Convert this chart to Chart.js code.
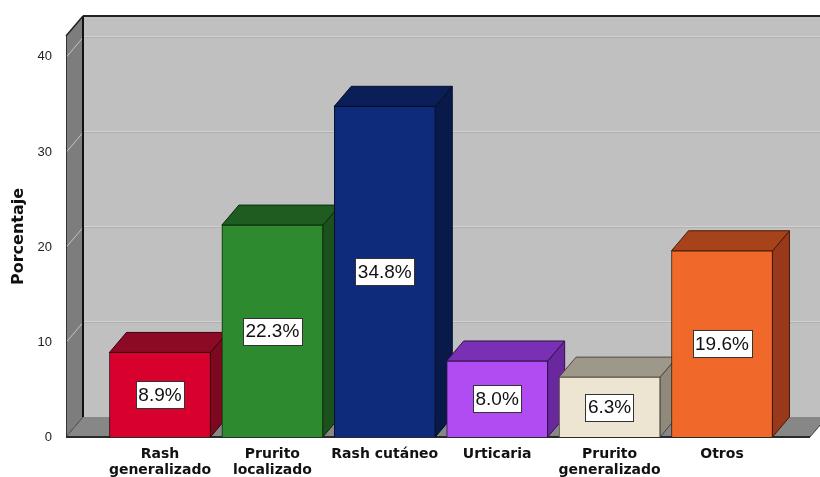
<!DOCTYPE html>
<html>
<head>
<meta charset="utf-8">
<script src="https://cdn.jsdelivr.net/npm/chart.js@4.4.1/dist/chart.umd.min.js"></script>
<style>
  html, body { margin: 0; padding: 0; background: #ffffff; }
  #wrap { width: 820px; height: 477px; }
</style>
</head>
<body>
<div id="wrap"><canvas id="c" width="820" height="477"></canvas></div>
<script>
// Categories, values and axis ticks
const categories = [['Rash', 'generalizado'], ['Prurito', 'localizado'], 'Rash cutáneo', 'Urticaria', ['Prurito', 'generalizado'], 'Otros'];
const percentages = [8.9, 22.3, 34.8, 8.0, 6.3, 19.6];
const yTicks = [0, 10, 20, 30, 40];

// Bar face colours: front, top, side, edge
const frontColors = ['#d8002c', '#2e8a2e', '#0d2b7a', '#b14bf2', '#ede5d1', '#f0692b'];
const topColors   = ['#8c0a24', '#1f5c1f', '#0a1e57', '#7a30b5', '#9d9889', '#a6431b'];
const sideColors  = ['#7e0820', '#1b521b', '#08194a', '#6a289e', '#8f8a7c', '#97391a'];
const edgeColors  = ['#3a0010', '#0f2a0f', '#050f2a', '#33124d', '#4a463c', '#4a1a08'];

// Depth of the 3D box (pixels)
const DX = 17, DY = 20;

function poly(ctx, pts, fill, stroke, lw) {
  ctx.beginPath();
  ctx.moveTo(pts[0][0], pts[0][1]);
  for (let i = 1; i < pts.length; i++) ctx.lineTo(pts[i][0], pts[i][1]);
  ctx.closePath();
  if (fill) { ctx.fillStyle = fill; ctx.fill(); }
  if (stroke) { ctx.strokeStyle = stroke; ctx.lineWidth = lw || 1; ctx.stroke(); }
}

function line(ctx, x1, y1, x2, y2, color, lw) {
  ctx.beginPath();
  ctx.moveTo(x1, y1);
  ctx.lineTo(x2, y2);
  ctx.strokeStyle = color;
  ctx.lineWidth = lw;
  ctx.stroke();
}

const box3d = {
  id: 'box3d',
  beforeDatasetsDraw(chart) {
    const { ctx, chartArea: a, scales: { y } } = chart;
    ctx.save();
    // back wall
    ctx.fillStyle = '#c0c0c0';
    ctx.fillRect(a.left + DX, a.top - DY, a.right - a.left + 20, a.bottom - a.top);
    // left wall
    poly(ctx, [[a.left, a.top], [a.left + DX, a.top - DY], [a.left + DX, a.bottom - DY], [a.left, a.bottom]], '#7d7d7d');
    // floor
    poly(ctx, [[a.left, a.bottom], [a.left + DX, a.bottom - DY], [a.right + DX, a.bottom - DY], [a.right, a.bottom]], '#878787');
    // grid lines on back and left walls
    yTicks.forEach(t => {
      if (t === 0) return;
      const yy = Math.round(y.getPixelForValue(t)) + 0.5;
      line(ctx, a.left + DX, yy - DY, a.right + DX + 20, yy - DY, '#b0b0b0', 1);
      line(ctx, a.left + DX, yy - DY - 1, a.right + DX + 20, yy - DY - 1, '#d2d2d2', 1);
      line(ctx, a.left, yy, a.left + DX, yy - DY, '#c4c4c4', 1);
    });
    // edges
    line(ctx, a.left + DX, a.top - DY, a.right + DX + 20, a.top - DY, '#222', 2);
    line(ctx, a.left + DX, a.top - DY, a.left + DX, a.bottom - DY, '#111', 2);
    line(ctx, a.left, a.top, a.left + DX, a.top - DY, '#222', 1.5);
    line(ctx, a.left + 0.5, a.top, a.left + 0.5, a.bottom, '#333', 1);
    line(ctx, a.left, a.bottom, a.left + DX, a.bottom - DY, '#444', 1);
    line(ctx, a.right, a.bottom, a.right + DX, a.bottom - DY, '#444', 1);
    line(ctx, a.left, a.bottom, a.right, a.bottom, '#2a2a2a', 2);

    // top and side faces of the bars
    const meta = chart.getDatasetMeta(0);
    meta.data.forEach((el, i) => {
      const p = el.getProps(['x', 'y', 'base', 'width'], true);
      const l = p.x - p.width / 2, r = p.x + p.width / 2;
      poly(ctx, [[r, p.y], [r + DX, p.y - DY], [r + DX, p.base - DY], [r, p.base]], sideColors[i], edgeColors[i], 1);
      poly(ctx, [[l, p.y], [l + DX, p.y - DY], [r + DX, p.y - DY], [r, p.y]], topColors[i], edgeColors[i], 1);
    });
    ctx.restore();
  },
  afterDatasetsDraw(chart) {
    const { ctx } = chart;
    const meta = chart.getDatasetMeta(0);
    ctx.save();
    ctx.font = '19px "Liberation Sans", Arial, sans-serif';
    ctx.textAlign = 'center';
    ctx.textBaseline = 'middle';
    meta.data.forEach((el, i) => {
      const p = el.getProps(['x', 'y', 'base'], true);
      const txt = percentages[i].toFixed(1) + '%';
      const w = ctx.measureText(txt).width + 5;
      const h = 27;
      const cy = (p.y + p.base) / 2;
      const bx = Math.round(p.x - w / 2) + 0.5, by = Math.round(cy - h / 2) + 0.5;
      ctx.fillStyle = '#ffffff';
      ctx.fillRect(bx, by, Math.round(w), h);
      ctx.strokeStyle = '#333';
      ctx.lineWidth = 1;
      ctx.strokeRect(bx, by, Math.round(w), h);
      ctx.fillStyle = '#111';
      ctx.fillText(txt, p.x, cy + 1);
    });
    ctx.restore();
  }
};

new Chart(document.getElementById('c'), {
  type: 'bar',
  data: {
    datasets: [{
      data: percentages.map((v, i) => ({ x: i, y: v })),
      backgroundColor: frontColors,
      borderColor: edgeColors,
      borderWidth: 1,
      barThickness: 101
    }]
  },
  options: {
    responsive: false,
    animation: false,
    devicePixelRatio: 1,
    layout: { padding: { top: 36, right: 10, left: 0, bottom: 0 } },
    plugins: { legend: { display: false }, tooltip: { enabled: false } },
    scales: {
      x: {
        type: 'linear',
        offset: false,
        bounds: 'ticks',
        min: -0.836,
        max: 5.783,
        grid: { display: false },
        border: { display: false },
        afterBuildTicks: s => { s.ticks = categories.map((_, i) => ({ value: i })); },
        afterFit: s => { s.height = 40; },
        ticks: {
          autoSkip: false, maxRotation: 0, minRotation: 0, padding: 1,
          color: '#111',
          font: { family: '"DejaVu Sans", sans-serif', size: 14, weight: 'bold', lineHeight: '16px' },
          callback: (v) => categories[v]
        }
      },
      y: {
        min: 0,
        max: 42.2,
        grid: { display: false },
        border: { display: false },
        afterBuildTicks: s => { s.ticks = yTicks.map(v => ({ value: v })); },
        afterFit: s => { s.width = 66; },
        ticks: {
          padding: 6,
          color: '#222',
          font: { family: '"Liberation Sans", Arial, sans-serif', size: 13 }
        },
        title: {
          display: true,
          text: 'Porcentaje',
          color: '#111',
          font: { family: '"DejaVu Sans", sans-serif', size: 16, weight: 'bold' },
          padding: { top: 9, bottom: 0 }
        }
      }
    }
  },
  plugins: [box3d]
});
</script>
</body>
</html>
